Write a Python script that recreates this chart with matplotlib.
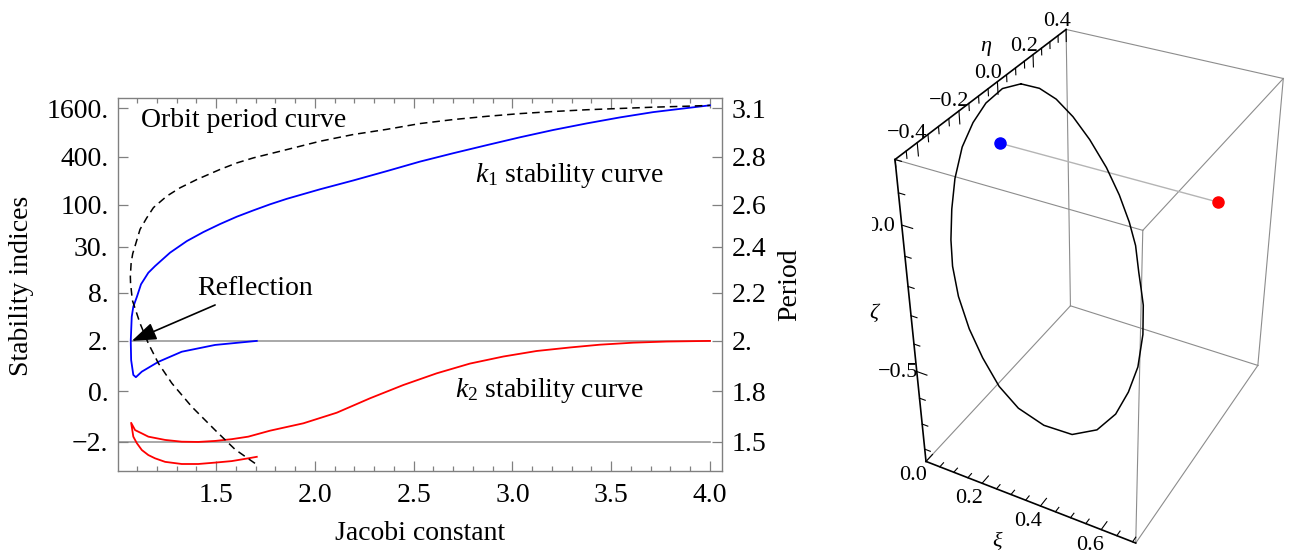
import numpy as np
import matplotlib
matplotlib.use("Agg")
import matplotlib.pyplot as plt
from matplotlib.ticker import FixedLocator, NullLocator, MultipleLocator
from matplotlib.transforms import Bbox

plt.rcParams['font.family'] = ['Liberation Serif', 'DejaVu Serif']
plt.rcParams['mathtext.fontset'] = 'custom'
plt.rcParams['mathtext.rm'] = 'Liberation Serif'
plt.rcParams['mathtext.it'] = 'Liberation Serif:italic'

# ---------------- data (left panel) ----------------
# k1 stability index along the family (from Jacobi 4.0 down to the fold, then back)
K1_X = [4.0, 3.882, 3.713, 3.545, 3.376, 3.207, 3.038, 2.870, 2.701, 2.532, 2.364,
        2.195, 2.026, 1.858, 1.773, 1.689, 1.605, 1.520, 1.436, 1.352, 1.267, 1.191,
        1.157, 1.120, 1.099, 1.081, 1.073, 1.068, 1.070, 1.081, 1.094, 1.124, 1.208,
        1.326, 1.495, 1.706]
K1_Y = [1752, 1617, 1441, 1238, 1041, 862, 698, 557, 442, 347, 264,
        202, 156.5, 119, 101.6, 85.4, 71.2, 57.6, 45.8, 35.3, 25.3, 17.2,
        14.2, 10.2, 7.1, 5.36, 4.01, 2.0, 1.24, 0.65, 0.56, 0.78, 1.17,
        1.57, 1.84, 2.0]

# k2 stability index (lower branch from 1.706 to the cusp, then upper branch to 4.0)
K2_X = [1.706, 1.663, 1.579, 1.495, 1.410, 1.326, 1.242, 1.191, 1.157, 1.124, 1.099,
        1.081, 1.070, 1.090, 1.124, 1.157, 1.242, 1.326, 1.410, 1.495, 1.579, 1.663,
        1.773, 1.942, 2.111, 2.279, 2.448, 2.617, 2.785, 2.954, 3.123, 3.292, 3.443,
        3.612, 3.781, 4.0]
K2_Y = [-2.60, -2.66, -2.77, -2.83, -2.885, -2.885, -2.80, -2.66, -2.53, -2.33, -2.06,
        -1.80, -1.25, -1.54, -1.67, -1.80, -1.93, -2.0, -2.01, -1.97, -1.90, -1.80,
        -1.563, -1.27, -0.849, -0.278, 0.25, 0.714, 1.10, 1.38, 1.60, 1.74, 1.85,
        1.93, 1.975, 2.0]

# orbit period
PERIOD_X = [1.697, 1.596, 1.495, 1.377, 1.276, 1.208, 1.157, 1.115, 1.076, 1.067,
            1.066, 1.070, 1.078, 1.090, 1.115, 1.149, 1.183, 1.250, 1.318, 1.402,
            1.520, 1.605, 1.689, 1.858, 2.026, 2.195, 2.364, 2.532, 2.701, 2.870,
            3.038, 3.207, 3.376, 3.545, 3.713, 3.882, 4.0]
PERIOD_Y = [1.371, 1.454, 1.569, 1.708, 1.832, 1.911, 1.990, 2.073, 2.169, 2.242,
            2.270, 2.330, 2.370, 2.404, 2.483, 2.538, 2.587, 2.636, 2.671, 2.705,
            2.747, 2.774, 2.795, 2.844, 2.896, 2.938, 2.970, 3.006, 3.031, 3.051,
            3.068, 3.081, 3.092, 3.100, 3.108, 3.114, 3.119]

# reference levels (stability = +2 and -2)
REF_LEVELS = [2.0, -2.0]
REF_START = [1.068, 1.005]
REF_END = [4.0, 4.0]

STAB_TICKS = [-2, 0, 2, 8, 30, 100, 400, 1600]
STAB_LABELS = ['\u22122.', '0.', '2.', '8.', '30.', '100.', '400.', '1600.']
PERIOD_TICKS = [1.5, 1.8, 2.0, 2.2, 2.4, 2.6, 2.8, 3.1]
PERIOD_LABELS = ['1.5', '1.8', '2.', '2.2', '2.4', '2.6', '2.8', '3.1']
X_TICKS = [1.5, 2.0, 2.5, 3.0, 3.5, 4.0]
X_LABELS = ['1.5', '2.0', '2.5', '3.0', '3.5', '4.0']

# ---------------- data (right panel, 3D orbit) ----------------
ORBIT_XI = [0.047, 0.096, 0.143, 0.193, 0.246, 0.302, 0.348, 0.387, 0.415, 0.437,
            0.453, 0.466, 0.480, 0.484, 0.472, 0.449, 0.407, 0.342, 0.261, 0.184,
            0.122, 0.065, 0.017, -0.025, -0.053, -0.068, -0.078, -0.082, -0.076,
            -0.058, -0.033, 0.003]
ORBIT_ETA = [0.050, 0.071, 0.084, 0.092, 0.095, 0.093, 0.087, 0.077, 0.065, 0.045,
             0.032, 0.021, -0.006, -0.044, -0.082, -0.121, -0.164, -0.205, -0.237,
             -0.257, -0.263, -0.258, -0.249, -0.233, -0.212, -0.189, -0.159, -0.126,
             -0.087, -0.050, -0.015, 0.020]
ORBIT_ZETA = [0.182, 0.170, 0.141, 0.093, 0.030, -0.047, -0.124, -0.201, -0.268,
              -0.345, -0.397, -0.441, -0.528, -0.625, -0.701, -0.769, -0.817, -0.831,
              -0.802, -0.749, -0.682, -0.596, -0.509, -0.413, -0.325, -0.249, -0.162,
              -0.076, 0.011, 0.078, 0.131, 0.170]
PRIMARY = (0.0, 0.0, 0.0)        # blue point
LIBRATION = (0.693, 0.0, 0.0)    # red point

XI_LIM = (0.0, 0.71)
ETA_LIM = (-0.5, 0.4)
ZETA_LIM = (-0.85, 0.2)

# ---------------- scales ----------------
K_LOG = 1.38


def stab_fwd(y):
    y = np.asarray(y, dtype=float)
    return np.where(y <= 2, y, 2 + K_LOG * np.log(np.maximum(y, 2) / 2))


def stab_inv(t):
    t = np.asarray(t, dtype=float)
    return np.where(t <= 2, t, 2 * np.exp((np.maximum(t, 2) - 2) / K_LOG))


_t_ticks = stab_fwd(STAB_TICKS)
_p = np.array(PERIOD_TICKS, dtype=float)
_s0 = (_t_ticks[1] - _t_ticks[0]) / (_p[1] - _p[0])
_s1 = (_t_ticks[-1] - _t_ticks[-2]) / (_p[-1] - _p[-2])
P_EXT = np.concatenate([[_p[0] - 1.0], _p, [_p[-1] + 1.0]])
T_EXT = np.concatenate([[_t_ticks[0] - _s0], _t_ticks, [_t_ticks[-1] + _s1]])


def per_fwd(p):
    return np.interp(np.asarray(p, dtype=float), P_EXT, T_EXT)


def per_inv(t):
    return np.interp(np.asarray(t, dtype=float), T_EXT, P_EXT)


# ---------------- figure ----------------
W, H = 1295, 552
fig = plt.figure(figsize=(W / 100, H / 100), dpi=100)

FS = 20
GRAY = '#808080'

ax = fig.add_axes([118.3 / W, (H - 471) / H, (722 - 118.3) / W, (471 - 98) / H])
ax.set_yscale('function', functions=(stab_fwd, stab_inv))
T_BOTTOM, T_TOP = -3.163, 11.64
ax.set_xlim(1.005, 4.061)
ax.set_ylim(float(stab_inv(T_BOTTOM)), float(stab_inv(T_TOP)))

for lev, x0, x1 in zip(REF_LEVELS, REF_START, REF_END):
    ax.plot([x0, x1], [lev, lev], color='#9a9a9a', lw=1.2, zorder=1)

ax.plot(K1_X, K1_Y, color='#0000ff', lw=1.3, zorder=3)
ax.plot(K2_X, K2_Y, color='#ff0000', lw=1.3, zorder=3)

ax.yaxis.set_major_locator(FixedLocator(STAB_TICKS))
ax.set_yticklabels(STAB_LABELS)
ax.yaxis.set_minor_locator(NullLocator())
ax.set_xticks(X_TICKS)
ax.set_xticklabels(X_LABELS)
ax.xaxis.set_minor_locator(MultipleLocator(0.1))
ax.tick_params(axis='both', which='both', direction='in', color=GRAY, width=0.9,
               labelsize=FS)
ax.tick_params(axis='x', which='both', top=True, pad=9)
ax.tick_params(axis='y', which='both', right=False, pad=7)
ax.tick_params(which='major', length=7)
ax.tick_params(which='minor', length=3.5)
for sp in ax.spines.values():
    sp.set_color(GRAY)
    sp.set_linewidth(1.0)
ax.spines['right'].set_visible(False)

ax2 = ax.twinx()
ax2.set_yscale('function', functions=(per_fwd, per_inv))
ax2.set_ylim(float(per_inv(T_BOTTOM)), float(per_inv(T_TOP)))
ax2.plot(PERIOD_X, PERIOD_Y, color='black', lw=1.1, ls=(0, (5, 3.2)), zorder=4)
ax2.yaxis.set_major_locator(FixedLocator(PERIOD_TICKS))
ax2.set_yticklabels(PERIOD_LABELS)
ax2.yaxis.set_minor_locator(NullLocator())
ax2.tick_params(axis='y', which='both', direction='in', color=GRAY, width=0.9,
                length=7, labelsize=FS, pad=7)
for name, sp in ax2.spines.items():
    sp.set_color(GRAY)
    sp.set_linewidth(1.0)
    sp.set_visible(name == 'right')

ax.set_ylabel('Stability indices', fontsize=FS, va='center', ha='center')
ax.yaxis.set_label_coords((22 - 118.3) / 603.7, (471 - 286) / 373)
ax2.set_ylabel('Period', fontsize=FS, va='center', ha='center', rotation=90)
ax2.yaxis.set_label_coords((790 - 118.3) / 603.7, (471 - 285) / 373)
ax.set_xlabel('Jacobi constant', fontsize=FS, va='center', ha='center')
ax.xaxis.set_label_coords(0.5, (471 - 533) / 373)

ax.text(1.121, 946, 'Orbit period curve', fontsize=FS, va='baseline', ha='left')
ax.text(2.811, 195, r'$k_1$ stability curve', fontsize=FS, va='baseline', ha='left')
ax.text(2.71, -0.214, r'$k_2$ stability curve', fontsize=FS, va='baseline', ha='left')
ax.text(1.404, 7.48, 'Reflection', fontsize=FS, va='baseline', ha='left')
ax.annotate('', xy=(1.0735, 2.0), xytext=(1.495, 5.62),
            arrowprops=dict(arrowstyle='-|>,head_length=0.75,head_width=0.27',
                            mutation_scale=20, color='black', lw=1.2,
                            shrinkA=0, shrinkB=0), zorder=6)

# ---------------- 3D panel ----------------
S = 552
cx, cy = 1092, 283
ax3 = fig.add_axes([(cx - S / 2) / W, (H - cy - S / 2) / H, S / W, S / H],
                   projection='3d', computed_zorder=False)
ax3.set_proj_type('persp', focal_length=0.44)
ax3.view_init(elev=35, azim=-62, roll=0)
ax3.set_xlim(*XI_LIM)
ax3.set_ylim(*ETA_LIM)
ax3.set_zlim(*ZETA_LIM)
ax3.set_box_aspect((XI_LIM[1] - XI_LIM[0], ETA_LIM[1] - ETA_LIM[0],
                    ZETA_LIM[1] - ZETA_LIM[0]), zoom=0.93)
ax3.set_xticks([])
ax3.set_yticks([])
ax3.set_zticks([])
ax3.set_axis_off()
ax3.patch.set_alpha(0)

x0, x1 = XI_LIM
y0, y1 = ETA_LIM
z0, z1 = ZETA_LIM
corners = {}
for i, xv in enumerate((x0, x1)):
    for j, yv in enumerate((y0, y1)):
        for k, zv in enumerate((z0, z1)):
            corners[(i, j, k)] = (xv, yv, zv)
axis_edges = {((0, 0, 1), (0, 1, 1)), ((0, 0, 0), (0, 0, 1)), ((0, 0, 0), (1, 0, 0))}
for a in corners:
    for b in corners:
        if a < b and sum(abs(p - q) for p, q in zip(a, b)) == 1:
            pa, pb = corners[a], corners[b]
            if (a, b) in axis_edges:
                col, lw, zo = 'black', 1.2, 2
            else:
                col, lw, zo = '#8c8c8c', 0.8, 1
            ax3.plot([pa[0], pb[0]], [pa[1], pb[1]], [pa[2], pb[2]],
                     color=col, lw=lw, zorder=zo, clip_on=False)

TFS = 16
# eta axis (xi = x0, zeta = z1), ticks pointing down
for v in np.arange(-0.5, 0.401, 0.05):
    major = abs(round(v / 0.2) * 0.2 - v) < 1e-6
    L = 0.04 if major else 0.022
    ax3.plot([x0, x0], [v, v], [z1, z1 - L], color='black', lw=0.8, clip_on=False)
for v in (-0.4, -0.2, 0.0, 0.2, 0.4):
    ax3.text(x0 - 0.03, v, z1 + 0.02, f'{v:.1f}'.replace('-', '\u2212'),
             fontsize=TFS, ha='center', va='center', clip_on=False)
ax3.text(x0, -0.05, z1 + 0.13, '\u03b7', fontsize=TFS, fontstyle='italic',
         ha='center', va='center', clip_on=False)

# zeta axis (xi = x0, eta = y0), ticks pointing +xi
for v in np.arange(-0.8, 0.201, 0.1):
    major = abs(round(v / 0.5) * 0.5 - v) < 1e-6
    L = 0.035 if major else 0.02
    ax3.plot([x0, x0 + L], [y0, y0], [v, v], color='black', lw=0.8, clip_on=False)
clip_bb = Bbox.from_extents(872, 0, W, H)
for v in (0.0, -0.5):
    t = ax3.text(x0 - 0.045, y0 - 0.03, v, f'{v:.1f}'.replace('-', '\u2212'),
                 fontsize=TFS, ha='center', va='center')
    t.set_clip_box(clip_bb)
    t.set_clip_on(True)
ax3.text(x0 - 0.09, y0 - 0.05, -0.29, '\u03b6', fontsize=TFS, fontstyle='italic',
         ha='center', va='center', clip_on=False)

# xi axis (eta = y0, zeta = z0), ticks pointing +eta
for v in np.arange(0.0, 0.701, 0.05):
    major = abs(round(v / 0.2) * 0.2 - v) < 1e-6
    L = 0.035 if major else 0.02
    ax3.plot([v, v], [y0, y0 + L], [z0, z0], color='black', lw=0.8, clip_on=False)
for v in (0.0, 0.2, 0.4, 0.6):
    ax3.text(v, y0 - 0.07, z0, f'{v:.1f}', fontsize=TFS, ha='center', va='center',
             clip_on=False)
ax3.text(0.32, y0 - 0.12, z0 - 0.08, '\u03be', fontsize=TFS, fontstyle='italic',
         ha='center', va='center', clip_on=False)

ax3.plot([PRIMARY[0], LIBRATION[0]], [PRIMARY[1], LIBRATION[1]],
         [PRIMARY[2], LIBRATION[2]], color='#b4b4b4', lw=1.0, zorder=3, clip_on=False)
ox = ORBIT_XI + ORBIT_XI[:1]
oy = ORBIT_ETA + ORBIT_ETA[:1]
oz = ORBIT_ZETA + ORBIT_ZETA[:1]
ax3.plot(ox, oy, oz, color='black', lw=1.1, zorder=4, clip_on=False)
ax3.plot([PRIMARY[0]], [PRIMARY[1]], [PRIMARY[2]], 'o', color='#0000ff', ms=8,
         zorder=5, clip_on=False)
ax3.plot([LIBRATION[0]], [LIBRATION[1]], [LIBRATION[2]], 'o', color='#ff0000', ms=8,
         zorder=5, clip_on=False)

fig.savefig('out.png', dpi=100)
